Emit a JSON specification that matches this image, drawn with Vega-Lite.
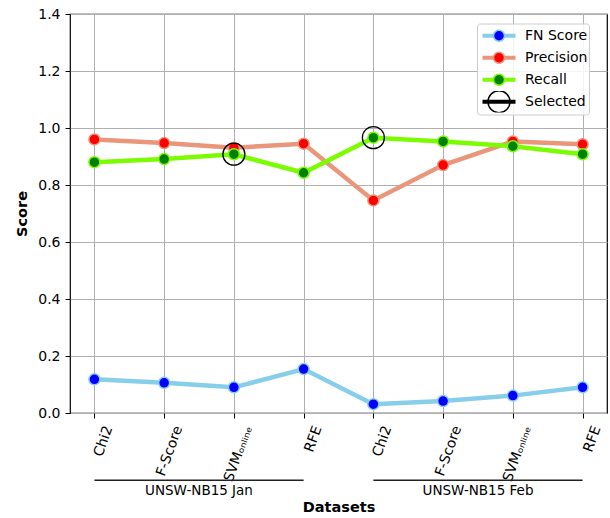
{
  "$schema": "https://vega.github.io/schema/vega-lite/v6.json",
  "width": 537,
  "height": 399,
  "autosize": {"type": "none"},
  "padding": {"left": 70, "top": 14, "right": 3, "bottom": 105},
  "background": "white",
  "config": {
    "font": "DejaVu Sans",
    "view": {"stroke": "#000000", "strokeWidth": 1.2},
    "axis": {
      "labelFont": "DejaVu Sans", "labelFontSize": 14, "labelColor": "#000000",
      "titleFont": "DejaVu Sans", "titleFontSize": 14.5, "titleFontWeight": "bold", "titleColor": "#000000",
      "tickColor": "#000000", "tickSize": 5, "tickWidth": 1,
      "domain": false,
      "grid": true, "gridColor": "#b0b0b0", "gridWidth": 1
    },
    "legend": {"labelFont": "DejaVu Sans", "labelFontSize": 14, "labelColor": "#000000"}
  },
  "datasets": {
    "scores": [
      {"dataset": "UNSW-NB15 Jan", "key": "Jan Chi2", "metric": "FN Score", "score": 0.118},
      {"dataset": "UNSW-NB15 Jan", "key": "Jan F-Score", "metric": "FN Score", "score": 0.106},
      {"dataset": "UNSW-NB15 Jan", "key": "Jan SVMₒₙₗᵢₙₑ", "metric": "FN Score", "score": 0.090},
      {"dataset": "UNSW-NB15 Jan", "key": "Jan RFE", "metric": "FN Score", "score": 0.154},
      {"dataset": "UNSW-NB15 Feb", "key": "Feb Chi2", "metric": "FN Score", "score": 0.031},
      {"dataset": "UNSW-NB15 Feb", "key": "Feb F-Score", "metric": "FN Score", "score": 0.042},
      {"dataset": "UNSW-NB15 Feb", "key": "Feb SVMₒₙₗᵢₙₑ", "metric": "FN Score", "score": 0.061},
      {"dataset": "UNSW-NB15 Feb", "key": "Feb RFE", "metric": "FN Score", "score": 0.090},
      {"dataset": "UNSW-NB15 Jan", "key": "Jan Chi2", "metric": "Precision", "score": 0.960},
      {"dataset": "UNSW-NB15 Jan", "key": "Jan F-Score", "metric": "Precision", "score": 0.947},
      {"dataset": "UNSW-NB15 Jan", "key": "Jan SVMₒₙₗᵢₙₑ", "metric": "Precision", "score": 0.931},
      {"dataset": "UNSW-NB15 Jan", "key": "Jan RFE", "metric": "Precision", "score": 0.945},
      {"dataset": "UNSW-NB15 Feb", "key": "Feb Chi2", "metric": "Precision", "score": 0.746},
      {"dataset": "UNSW-NB15 Feb", "key": "Feb F-Score", "metric": "Precision", "score": 0.870},
      {"dataset": "UNSW-NB15 Feb", "key": "Feb SVMₒₙₗᵢₙₑ", "metric": "Precision", "score": 0.953},
      {"dataset": "UNSW-NB15 Feb", "key": "Feb RFE", "metric": "Precision", "score": 0.943},
      {"dataset": "UNSW-NB15 Jan", "key": "Jan Chi2", "metric": "Recall", "score": 0.880},
      {"dataset": "UNSW-NB15 Jan", "key": "Jan F-Score", "metric": "Recall", "score": 0.891},
      {"dataset": "UNSW-NB15 Jan", "key": "Jan SVMₒₙₗᵢₙₑ", "metric": "Recall", "score": 0.908},
      {"dataset": "UNSW-NB15 Jan", "key": "Jan RFE", "metric": "Recall", "score": 0.843},
      {"dataset": "UNSW-NB15 Feb", "key": "Feb Chi2", "metric": "Recall", "score": 0.966},
      {"dataset": "UNSW-NB15 Feb", "key": "Feb F-Score", "metric": "Recall", "score": 0.953},
      {"dataset": "UNSW-NB15 Feb", "key": "Feb SVMₒₙₗᵢₙₑ", "metric": "Recall", "score": 0.936},
      {"dataset": "UNSW-NB15 Feb", "key": "Feb RFE", "metric": "Recall", "score": 0.908}
    ],
    "selected": [
      {"dataset": "UNSW-NB15 Jan", "key": "Jan SVMₒₙₗᵢₙₑ", "metric": "Selected", "score": 0.908},
      {"dataset": "UNSW-NB15 Feb", "key": "Feb Chi2", "metric": "Selected", "score": 0.966}
    ],
    "groups": [
      {"group": "UNSW-NB15 Jan", "start": "Jan Chi2", "end": "Jan RFE"},
      {"group": "UNSW-NB15 Feb", "start": "Feb Chi2", "end": "Feb RFE"}
    ]
  },
  "layer": [
    {
      "layer": [
        {
          "data": {"name": "scores"},
          "mark": {"type": "line", "strokeWidth": 4.5},
          "encoding": {
            "x": {
              "field": "key", "type": "nominal",
              "scale": {"type": "point", "padding": 0.35, "domain": ["Jan Chi2", "Jan F-Score", "Jan SVMₒₙₗᵢₙₑ", "Jan RFE", "Feb Chi2", "Feb F-Score", "Feb SVMₒₙₗᵢₙₑ", "Feb RFE"]},
              "axis": {"title": "Datasets", "labelAngle": -70, "labelAlign": "right", "labelBaseline": "middle", "labelPadding": 8, "labelOffset": 14, "labelExpr": "slice(datum.label, 4)", "titlePadding": 17}
            },
            "y": {
              "field": "score", "type": "quantitative",
              "scale": {"domain": [0, 1.4], "nice": false, "zero": false},
              "axis": {"title": "Score", "values": [0, 0.2, 0.4, 0.6, 0.8, 1.0, 1.2, 1.4], "format": ".1f", "labelPadding": 5, "titlePadding": 8}
            },
            "color": {
              "field": "metric", "type": "nominal",
              "scale": {"domain": ["FN Score", "Precision", "Recall", "Selected"], "range": ["#87CEEB", "#E9967A", "#7CFC00", "#000000"]},
              "legend": {
                "orient": "none", "legendX": 407, "legendY": 9.5, "title": null,
                "symbolType": "M-3.3,0H3.3", "symbolSize": 100, "symbolStrokeWidth": 4, "symbolFillColor": "transparent",
                "symbolOffset": 13.5, "labelOffset": 19, "rowPadding": 0, "clipHeight": 21.5, "padding": 1.5,
                "labelExpr": "datum.label + '  '",
                "fillColor": "rgba(255,255,255,0.85)", "strokeColor": "#cccccc", "cornerRadius": 3
              }
            },
            "order": {"value": null}
          }
        },
        {
          "data": {"name": "scores"},
          "mark": {"type": "point", "filled": true, "size": 121, "strokeWidth": 1.5, "opacity": 1},
          "encoding": {
            "x": {"field": "key", "type": "nominal", "scale": {"type": "point", "padding": 0.35, "domain": ["Jan Chi2", "Jan F-Score", "Jan SVMₒₙₗᵢₙₑ", "Jan RFE", "Feb Chi2", "Feb F-Score", "Feb SVMₒₙₗᵢₙₑ", "Feb RFE"]}},
            "y": {"field": "score", "type": "quantitative"},
            "fill": {
              "field": "metric", "type": "nominal",
              "scale": {"domain": ["Selected", "Recall", "Precision", "FN Score"], "range": ["transparent", "#008000", "#FF0000", "#0000FF"]},
              "legend": {"orient": "none", "legendX": 407, "legendY": 9.5, "title": null, "values": ["FN Score", "Precision", "Recall", "Selected"], "symbolSize": 121, "symbolStrokeWidth": 1.5, "symbolOffset": 13.5, "labelOffset": 19, "rowPadding": 0, "clipHeight": 21.5, "padding": 1.5, "labelOpacity": 0}
            },
            "stroke": {
              "field": "metric", "type": "nominal",
              "scale": {"domain": ["Selected", "Recall", "Precision", "FN Score"], "range": ["#000000", "#7CFC00", "#E9967A", "#87CEEB"]},
              "legend": {"orient": "none", "legendX": 407, "legendY": 9.5, "title": null, "values": ["FN Score", "Precision", "Recall", "Selected"], "symbolSize": 121, "symbolStrokeWidth": 1.5, "symbolOffset": 13.5, "labelOffset": 19, "rowPadding": 0, "clipHeight": 21.5, "padding": 1.5, "labelOpacity": 0}
            },
            "shape": {
              "field": "metric", "type": "nominal",
              "scale": {"domain": ["Selected", "Recall", "Precision", "FN Score"], "range": ["M2,0A2,2 0 1,1 -2,0A2,2 0 1,1 2,0Z", "circle", "circle", "circle"]},
              "legend": {"orient": "none", "legendX": 407, "legendY": 9.5, "title": null, "values": ["FN Score", "Precision", "Recall", "Selected"], "symbolSize": 121, "symbolStrokeWidth": 1.5, "symbolOffset": 13.5, "labelOffset": 19, "rowPadding": 0, "clipHeight": 21.5, "padding": 1.5, "labelOpacity": 0}
            }
          }
        },
        {
          "data": {"name": "selected"},
          "mark": {"type": "point", "filled": true, "size": 121, "strokeWidth": 1.3, "opacity": 1},
          "encoding": {
            "x": {"field": "key", "type": "nominal", "scale": {"type": "point", "padding": 0.35, "domain": ["Jan Chi2", "Jan F-Score", "Jan SVMₒₙₗᵢₙₑ", "Jan RFE", "Feb Chi2", "Feb F-Score", "Feb SVMₒₙₗᵢₙₑ", "Feb RFE"]}},
            "y": {"field": "score", "type": "quantitative"},
            "fill": {"field": "metric", "type": "nominal", "scale": {"domain": ["Selected", "Recall", "Precision", "FN Score"], "range": ["transparent", "#008000", "#FF0000", "#0000FF"]}},
            "stroke": {"field": "metric", "type": "nominal", "scale": {"domain": ["Selected", "Recall", "Precision", "FN Score"], "range": ["#000000", "#7CFC00", "#E9967A", "#87CEEB"]}},
            "shape": {"field": "metric", "type": "nominal", "scale": {"domain": ["Selected", "Recall", "Precision", "FN Score"], "range": ["M2,0A2,2 0 1,1 -2,0A2,2 0 1,1 2,0Z", "circle", "circle", "circle"]}}
          }
        },
        {
          "data": {"name": "groups"},
          "mark": {"type": "rule", "color": "#222222", "strokeWidth": 1.3},
          "encoding": {
            "x": {"field": "start", "type": "nominal", "scale": {"type": "point", "padding": 0.35, "domain": ["Jan Chi2", "Jan F-Score", "Jan SVMₒₙₗᵢₙₑ", "Jan RFE", "Feb Chi2", "Feb F-Score", "Feb SVMₒₙₗᵢₙₑ", "Feb RFE"]}},
            "x2": {"field": "end"},
            "y": {"datum": -0.236, "type": "quantitative"}
          }
        }
      ]
    },
    {
      "data": {"name": "groups"},
      "mark": {"type": "text", "font": "DejaVu Sans", "fontSize": 13.5, "align": "center", "baseline": "middle", "color": "#000000"},
      "encoding": {
        "x": {"field": "group", "type": "nominal", "scale": {"type": "point", "padding": 0.4624, "domain": ["UNSW-NB15 Jan", "UNSW-NB15 Feb"]}, "axis": null},
        "y": {"datum": -0.274, "type": "quantitative"},
        "text": {"field": "group"}
      }
    }
  ],
  "resolve": {"scale": {"x": "independent"}}
}
